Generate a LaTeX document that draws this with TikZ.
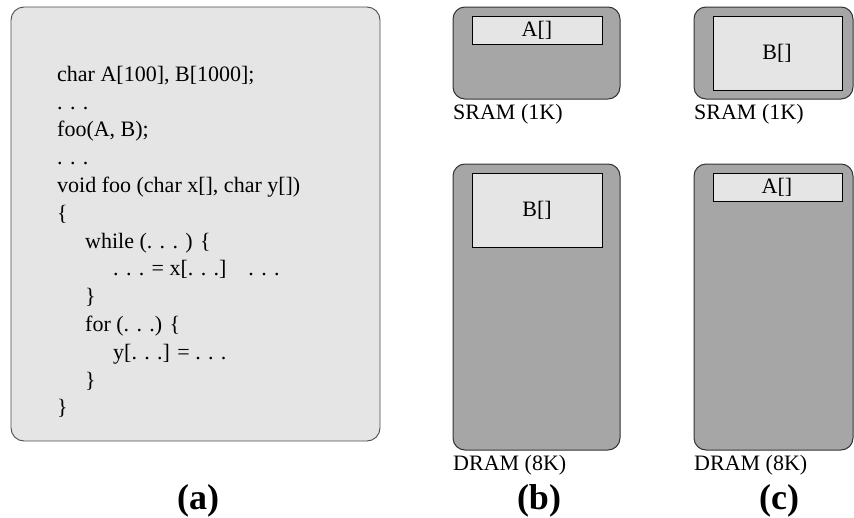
\documentclass[tikz,border=0pt]{standalone}
\usepackage{fontspec}
\setmainfont{Liberation Serif}
\usepackage{tikz}

\definecolor{codebg}{HTML}{E5E5E5}
\definecolor{memgray}{HTML}{A6A6A6}

\begin{document}
\begin{tikzpicture}[x=1pt,y=-1pt,
  codeline/.style={anchor=base west,inner sep=0pt,font=\fontsize{22}{26}\selectfont},
  membox/.style={draw=black!80,line width=1pt,fill=memgray,rounded corners=12pt},
  arrbox/.style={draw=black,line width=1pt,fill=codebg},
  arrtext/.style={inner sep=0pt,font=\fontsize{22}{26}\selectfont},
  memlabel/.style={anchor=base west,inner sep=0pt,font=\fontsize{22}{26}\selectfont},
  sublabel/.style={anchor=base,inner sep=0pt,font=\fontsize{36}{40}\selectfont\bfseries}]
\useasboundingbox (0,0) rectangle (854,517);

% (a) the program
\draw[draw=black!70,line width=0.9pt,fill=codebg,rounded corners=13pt] (11,7) rectangle (380,441);
\node[codeline] (l1) at (57,81) {char A[100], B[1000];};
\node[codeline] (l2) at (57,109) {. . .};
\node[codeline] (l3) at (57,136) {foo(A, B);};
\node[codeline] (l4) at (57,164) {. . .};
\node[codeline] (l5) at (57,192) {void foo (char x[], char y[])};
\node[codeline] (l6) at (57,220) {\{};
\node[codeline] (l7) at (85,248) {while (. . . ) \{};
\node[codeline] (l8) at (113,275) {. . . = x[. . .]\quad . . .};
\node[codeline] (l9) at (85,303) {\}};
\node[codeline] (l10) at (85,331) {for (. . .) \{};
\node[codeline] (l11) at (113,359) {y[. . .] = . . .};
\node[codeline] (l12) at (85,387) {\}};
\node[codeline] (l13) at (57,414) {\}};
\node[sublabel] (suba) at (198,509) {(a)};

% (b) A in SRAM, B in DRAM
\draw[membox] (453,7) rectangle (620,99);
\draw[arrbox] (472,16) rectangle (602,44);
\node[arrtext] (bA) at (537,30) {A[]};
\node[memlabel] (bsram) at (453,119) {SRAM (1K)};
\draw[membox] (453,164) rectangle (620,450);
\draw[arrbox] (472,173) rectangle (602,247);
\node[arrtext] (bB) at (537,210) {B[]};
\node[memlabel] (bdram) at (453,470) {DRAM (8K)};
\node[sublabel] (subb) at (539,509) {(b)};

% (c) B in SRAM, A in DRAM
\draw[membox] (694,7) rectangle (853,99);
\draw[arrbox] (713,16) rectangle (842,90);
\node[arrtext] (cB) at (777,53) {B[]};
\node[memlabel] (csram) at (694,119) {SRAM (1K)};
\draw[membox] (694,164) rectangle (853,450);
\draw[arrbox] (713,173) rectangle (842,201);
\node[arrtext] (cA) at (777,187) {A[]};
\node[memlabel] (cdram) at (694,470) {DRAM (8K)};
\node[sublabel] (subc) at (779,509) {(c)};
\end{tikzpicture}
\end{document}
